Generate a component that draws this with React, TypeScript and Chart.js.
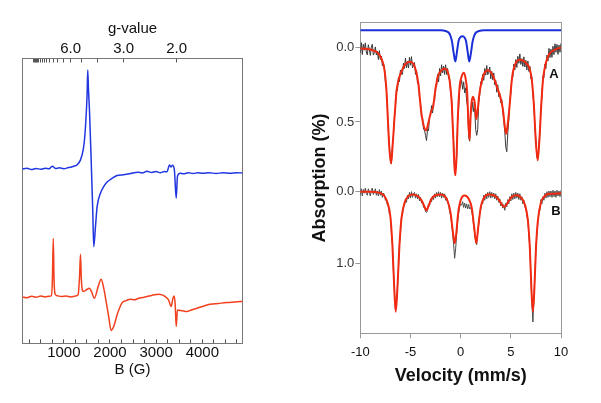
import React, { useEffect, useRef } from "react";
import { Chart, registerables } from "chart.js";

Chart.register(...registerables);

const FONT = "'Liberation Sans', Arial, Helvetica, sans-serif";

// ---------------- EPR panel (left) ----------------
const EPR_FIELD_MIN = 100;
const EPR_FIELD_MAX = 4875;
const EPR_B_TICKS = [250, 500, 750, 1000, 1250, 1500, 1750, 2000, 2250, 2500, 2750, 3000, 3250, 3500, 3750, 4000, 4250, 4500, 4750];
const EPR_B_LABELED = [1000, 2000, 3000, 4000];
const G_FACTOR = 6890; // g * B (G)
const G_LABELED = [6.0, 3.0, 2.0];
const G_MINOR = [20, 19, 18, 17, 16, 15, 14, 13, 12, 11, 10, 9, 8, 7, 5, 4];

const blueField = [100, 200, 300, 400, 500, 600, 680, 749, 820, 900, 1000, 1100, 1145, 1200, 1289, 1361, 1419, 1447, 1469, 1505, 1518, 1535, 1555, 1592, 1626, 1648, 1685, 1721, 1793, 1860, 1937, 2050, 2153, 2300, 2441, 2600, 2700, 2801, 2900, 3000, 3089, 3180, 3233, 3290, 3320, 3355, 3395, 3434, 3462, 3520, 3592, 3700, 3800, 3900, 4000, 4150, 4300, 4450, 4600, 4750, 4875];
const blueSignal = [0.0, 0.3, -0.2, 0.2, -0.1, 0.3, 0.1, 1.0, 0.2, 0.4, 0.1, 0.5, 0.6, 0.9, 1.5, 3.2, 6.7, 10.2, 14.9, 26.6, 34.8, 27.5, 20.7, 3.2, -14.4, -27.3, -20.3, -13.2, -8.5, -6.3, -4.6, -3.2, -2.3, -2.0, -1.6, -1.1, -1.4, -0.8, -1.2, -0.9, -1.3, -0.9, -1.0, 1.4, 0.7, 1.3, -0.4, -10.3, -2.5, -1.5, -1.7, -1.3, -1.6, -1.3, -1.5, -1.3, -1.6, -1.3, -1.5, -1.3, -1.4];

const redField = [100, 200, 300, 400, 500, 600, 680, 730, 752, 771, 788, 810, 860, 950, 1050, 1150, 1250, 1310, 1340, 1361, 1380, 1405, 1432, 1490, 1555, 1598, 1663, 1743, 1808, 1864, 1922, 1972, 2024, 2080, 2166, 2261, 2350, 2441, 2530, 2620, 2710, 2801, 2900, 3000, 3052, 3130, 3197, 3268, 3326, 3363, 3391, 3413, 3434, 3462, 3521, 3600, 3665, 3760, 3881, 4000, 4169, 4350, 4529, 4700, 4875];
const redSignal = [0.0, -0.3, 0.2, -0.1, 0.3, 0.0, 0.2, 0.4, 6, 20.5, 6, 1.0, 0.4, 0.1, 0.3, 0.0, 0.3, 0.8, 7, 15.0, 6, 2.2, 1.9, 2.5, 3.05, 1.9, -0.46, 3.6, 6.2, 3.05, -2.2, -6.9, -11.8, -10.4, -5.7, -2.1, -1.3, -0.8, -1.0, -0.5, -0.2, 0.1, 0.5, 0.8, 0.95, 0.7, 0.1, -1.05, -3.4, -0.46, 0.35, -2.8, -10.4, -4.6, -4.8, -5.0, -5.1, -4.6, -4.0, -3.4, -2.6, -2.3, -2.0, -1.8, -1.6];

const EPR_BLUE_OFFSET = 61.2;
const EPR_RED_OFFSET = 16.3;

// ---------------- Mossbauer panel (right) ----------------
const VEL_TICKS = [-10, -5, 0, 5, 10];
const A_TICKS = [0.0, 0.5];
const B_TICKS = [0.0, 1.0];
const B_OFFSET = 0.969;
const B_SCALE = 0.482;
const COMP_OFFSET = -0.117;

const compVel = [-10, -2, -1.5, -1.2, -1.0, -0.85, -0.7, -0.53, -0.38, -0.2, 0.0, 0.165, 0.33, 0.53, 0.71, 0.86, 1.03, 1.18, 1.33, 1.53, 1.83, 2.33, 10];
const compAbs = [0, 0, 0.005, 0.015, 0.04, 0.08, 0.15, 0.21, 0.15, 0.07, 0.045, 0.04, 0.045, 0.07, 0.15, 0.21, 0.15, 0.08, 0.04, 0.015, 0.005, 0, 0];

const fitAVel = [-10, -9.5, -9.0, -8.5, -8.25, -8.0, -7.75, -7.57, -7.4, -7.24, -7.1, -6.93, -6.78, -6.6, -6.4, -6.2, -5.9, -5.5, -5.08, -4.7, -4.4, -4.2, -3.95, -3.7, -3.45, -3.2, -2.95, -2.75, -2.55, -2.3, -2.0, -1.6, -1.3, -1.1, -0.9, -0.75, -0.6, -0.52, -0.4, -0.27, -0.1, 0.07, 0.33, 0.5, 0.65, 0.78, 0.89, 0.98, 1.06, 1.23, 1.4, 1.56, 1.7, 1.85, 2.05, 2.3, 2.72, 3.2, 3.6, 3.95, 4.2, 4.4, 4.54, 4.68, 4.88, 5.05, 5.21, 5.54, 5.9, 6.2, 6.6, 6.87, 7.1, 7.3, 7.5, 7.68, 7.85, 8.03, 8.2, 8.43, 8.65, 8.86, 9.2, 9.69, 10];
const fitAAbs = [0.005, 0.008, 0.012, 0.025, 0.035, 0.06, 0.10, 0.16, 0.28, 0.50, 0.68, 0.78, 0.66, 0.48, 0.30, 0.22, 0.16, 0.11, 0.095, 0.11, 0.17, 0.25, 0.42, 0.52, 0.556, 0.50, 0.43, 0.40, 0.30, 0.20, 0.16, 0.14, 0.16, 0.22, 0.36, 0.58, 0.82, 0.859, 0.72, 0.45, 0.26, 0.20, 0.168, 0.21, 0.30, 0.52, 0.62, 0.48, 0.386, 0.33, 0.37, 0.48, 0.42, 0.32, 0.24, 0.18, 0.152, 0.186, 0.26, 0.33, 0.41, 0.53, 0.58, 0.52, 0.39, 0.25, 0.164, 0.096, 0.082, 0.086, 0.11, 0.14, 0.22, 0.39, 0.64, 0.758, 0.62, 0.39, 0.22, 0.12, 0.07, 0.04, 0.02, 0.005, 0.0];

const fitBVel = [-10, -9, -8.5, -8.0, -7.6, -7.3, -7.0, -6.8, -6.6, -6.47, -6.3, -6.1, -5.9, -5.6, -5.2, -4.8, -4.3, -3.9, -3.6, -3.42, -3.2, -2.9, -2.5, -2.0, -1.6, -1.3, -1.0, -0.8, -0.6, -0.45, -0.25, 0.0, 0.4, 0.8, 1.1, 1.35, 1.56, 1.75, 2.0, 2.3, 2.8, 3.3, 3.8, 4.1, 4.38, 4.7, 5.1, 5.6, 6.0, 6.4, 6.7, 6.9, 7.05, 7.2, 7.35, 7.5, 7.7, 8.0, 8.4, 8.8, 9.3, 10];
const fitBAbs = [0.0, 0.0, 0.005, 0.02, 0.06, 0.15, 0.35, 0.75, 1.40, 1.676, 1.35, 0.75, 0.38, 0.16, 0.06, 0.04, 0.06, 0.12, 0.21, 0.26, 0.20, 0.10, 0.05, 0.04, 0.06, 0.13, 0.30, 0.53, 0.72, 0.60, 0.30, 0.12, 0.055, 0.10, 0.22, 0.50, 0.72, 0.50, 0.22, 0.09, 0.04, 0.05, 0.11, 0.18, 0.21, 0.15, 0.07, 0.05, 0.08, 0.18, 0.40, 0.80, 1.35, 1.676, 1.35, 0.80, 0.40, 0.15, 0.06, 0.03, 0.03, 0.02];

const dataVel = [
  -10.0, -9.9, -9.8, -9.7, -9.6, -9.5, -9.4, -9.3, -9.2, -9.1, -9.0, -8.9, -8.8, -8.7, -8.6, -8.5, -8.4, -8.3, -8.2, -8.1,
  -8.0, -7.9, -7.8, -7.7, -7.6, -7.5, -7.4, -7.3, -7.2, -7.1, -7.0, -6.9, -6.8, -6.7, -6.6, -6.5, -6.4, -6.3, -6.2, -6.1,
  -6.0, -5.9, -5.8, -5.7, -5.6, -5.5, -5.4, -5.3, -5.2, -5.1, -5.0, -4.9, -4.8, -4.7, -4.6, -4.5, -4.4, -4.3, -4.2, -4.1,
  -4.0, -3.9, -3.8, -3.7, -3.6, -3.5, -3.4, -3.3, -3.2, -3.1, -3.0, -2.9, -2.8, -2.7, -2.6, -2.5, -2.4, -2.3, -2.2, -2.1,
  -2.0, -1.9, -1.8, -1.7, -1.6, -1.5, -1.4, -1.3, -1.2, -1.1, -1.0, -0.9, -0.8, -0.7, -0.6, -0.5, -0.4, -0.3, -0.2, -0.1,
  0.0, 0.1, 0.2, 0.3, 0.4, 0.5, 0.6, 0.7, 0.8, 0.9, 1.0, 1.1, 1.2, 1.3, 1.4, 1.5, 1.6, 1.7, 1.8, 1.9,
  2.0, 2.1, 2.2, 2.3, 2.4, 2.5, 2.6, 2.7, 2.8, 2.9, 3.0, 3.1, 3.2, 3.3, 3.4, 3.5, 3.6, 3.7, 3.8, 3.9,
  4.0, 4.1, 4.2, 4.3, 4.4, 4.5, 4.6, 4.7, 4.8, 4.9, 5.0, 5.1, 5.2, 5.3, 5.4, 5.5, 5.6, 5.7, 5.8, 5.9,
  6.0, 6.1, 6.2, 6.3, 6.4, 6.5, 6.6, 6.7, 6.8, 6.9, 7.0, 7.1, 7.2, 7.3, 7.4, 7.5, 7.6, 7.7, 7.8, 7.9,
  8.0, 8.1, 8.2, 8.3, 8.4, 8.5, 8.6, 8.7, 8.8, 8.9, 9.0, 9.1, 9.2, 9.3, 9.4, 9.5, 9.6, 9.7, 9.8, 9.9,
  10.0,
];
const dataAAbs = [
  0.035, -0.034, 0.046, -0.023, 0.017, -0.032, 0.029, 0.049, -0.02, 0.011, 0.052, -0.005, -0.023, 0.05, 0.032, -0.005, 0.049, 0.023, 0.08, 0.02,
  0.08, 0.056, 0.122, 0.105, 0.13, 0.23, 0.28, 0.40, 0.57, 0.66, 0.76, 0.78, 0.66, 0.60, 0.47, 0.41, 0.28, 0.29, 0.20, 0.23,
  0.15, 0.18, 0.18, 0.105, 0.14, 0.07, 0.135, 0.09, 0.137, 0.065, 0.118, 0.06, 0.135, 0.12, 0.10, 0.18, 0.15, 0.24, 0.23, 0.34,
  0.37, 0.47, 0.47, 0.55, 0.555, 0.59, 0.625, 0.55, 0.56, 0.46, 0.46, 0.39, 0.44, 0.36, 0.36, 0.25, 0.26, 0.18, 0.23, 0.14,
  0.19, 0.115, 0.17, 0.125, 0.18, 0.115, 0.18, 0.14, 0.21, 0.21, 0.31, 0.34, 0.52, 0.64, 0.83, 0.81, 0.74, 0.49, 0.41, 0.28,
  0.25, 0.22, 0.28, 0.23, 0.305, 0.27, 0.36, 0.40, 0.60, 0.63, 0.44, 0.43, 0.365, 0.43, 0.41, 0.55, 0.59, 0.55, 0.37, 0.32,
  0.23, 0.25, 0.18, 0.22, 0.14, 0.185, 0.12, 0.182, 0.165, 0.13, 0.21, 0.16, 0.216, 0.17, 0.25, 0.22, 0.30, 0.25, 0.33, 0.31,
  0.37, 0.35, 0.43, 0.49, 0.57, 0.67, 0.70, 0.57, 0.49, 0.35, 0.31, 0.20, 0.20, 0.11, 0.15, 0.08, 0.133, 0.058, 0.105, 0.042,
  0.113, 0.074, 0.126, 0.062, 0.13, 0.085, 0.15, 0.09, 0.16, 0.125, 0.21, 0.20, 0.32, 0.38, 0.54, 0.62, 0.74, 0.75, 0.64, 0.57,
  0.40, 0.33, 0.19, 0.20, 0.11, 0.14, 0.05, 0.09, 0.005, 0.067, 0.01, 0.065, -0.01, 0.047, -0.026, 0.031, -0.022, 0.045, -0.017, 0.031,
  -0.03,
];
const dataBAbs = [
  0.05, -0.04, 0.06, -0.03, 0.02, -0.05, 0.03, 0.05, -0.04, 0.01, 0.06, -0.02, -0.05, 0.04, 0.01, -0.04, 0.05, -0.01, 0.06, -0.03,
  0.05, -0.01, 0.08, 0.02, 0.04, 0.12, 0.10, 0.19, 0.20, 0.31, 0.33, 0.58, 0.73, 1.10, 1.38, 1.65, 1.56, 1.33, 1.08, 0.73,
  0.59, 0.35, 0.33, 0.20, 0.20, 0.10, 0.15, 0.05, 0.10, 0.01, 0.09, 0.00, 0.08, 0.03, 0.01, 0.09, 0.03, 0.10, 0.04, 0.13,
  0.08, 0.16, 0.13, 0.22, 0.21, 0.28, 0.29, 0.26, 0.17, 0.19, 0.10, 0.14, 0.06, 0.11, 0.03, 0.09, 0.01, 0.07, 0.00, 0.07,
  0.01, 0.09, 0.02, 0.08, 0.03, 0.12, 0.08, 0.16, 0.17, 0.28, 0.33, 0.45, 0.58, 0.74, 0.93, 0.80, 0.60, 0.42, 0.30, 0.21,
  0.17, 0.19, 0.14, 0.22, 0.16, 0.23, 0.17, 0.24, 0.18, 0.24, 0.22, 0.27, 0.35, 0.48, 0.58, 0.70, 0.74, 0.58, 0.46, 0.30,
  0.25, 0.15, 0.17, 0.05, 0.12, 0.03, 0.10, 0.01, 0.08, 0.00, 0.09, 0.01, 0.08, 0.02, 0.10, 0.03, 0.12, 0.06, 0.15, 0.10,
  0.20, 0.15, 0.23, 0.18, 0.26, 0.16, 0.21, 0.11, 0.17, 0.07, 0.13, 0.03, 0.11, 0.02, 0.10, 0.01, 0.09, 0.02, 0.11, 0.03,
  0.12, 0.07, 0.17, 0.12, 0.22, 0.22, 0.35, 0.38, 0.63, 0.78, 1.20, 1.55, 1.82, 1.50, 1.15, 0.83, 0.58, 0.43, 0.29, 0.26,
  0.11, 0.17, 0.07, 0.12, 0.02, 0.09, 0.00, 0.08, -0.01, 0.07, -0.01, 0.08, -0.02, 0.07, -0.01, 0.08, -0.02, 0.06, -0.01, 0.07,
  -0.02,
];

const SPEC_LABELS = ["A", "B"];
const SPEC_LABEL_VEL = [9.3, 9.5];
const SPEC_LABEL_ABS = [0.18, 0.27];

const zip = (xs: number[], ys: number[], f: (y: number) => number) =>
  xs.map((x, i) => ({ x, y: f(ys[i]) }));

function EprChart() {
  const ref = useRef<HTMLCanvasElement | null>(null);
  useEffect(() => {
    if (!ref.current) return;
    const gTicks = [...G_LABELED.map((g) => ({ g, label: g.toFixed(1) })), ...G_MINOR.map((g) => ({ g, label: "" }))]
      .map((t) => ({ value: G_FACTOR / t.g, label: t.label }))
      .sort((a, b) => a.value - b.value);
    const chart = new Chart(ref.current, {
      type: "line",
      data: {
        datasets: [
          {
            data: zip(blueField, blueSignal, (v) => v + EPR_BLUE_OFFSET),
            borderColor: "#2036e0",
            borderWidth: 1.5,
            pointRadius: 0,
            cubicInterpolationMode: "monotone",
            xAxisID: "x",
            yAxisID: "y",
          },
          {
            data: zip(redField, redSignal, (v) => v + EPR_RED_OFFSET),
            borderColor: "#f2401e",
            borderWidth: 1.5,
            pointRadius: 0,
            cubicInterpolationMode: "monotone",
            xAxisID: "x",
            yAxisID: "y",
          },
        ],
      },
      options: {
        animation: false,
        responsive: false,
        maintainAspectRatio: false,
        layout: { padding: 0 },
        plugins: { legend: { display: false }, tooltip: { enabled: false } },
        scales: {
          x: {
            type: "linear",
            position: "bottom",
            min: EPR_FIELD_MIN,
            max: EPR_FIELD_MAX,
            afterBuildTicks: (s: any) => {
              s.ticks = EPR_B_TICKS.map((v) => ({ value: v }));
            },
            afterFit: (s: any) => {
              s.height = 59.7;
            },
            ticks: {
              autoSkip: false,
              maxRotation: 0,
              minRotation: 0,
              padding: 5,
              color: "#111",
              font: { family: FONT, size: 15 },
              callback: (v: any) => (EPR_B_LABELED.includes(Number(v)) ? String(v) : ""),
            },
            grid: { drawOnChartArea: false, drawTicks: true, tickLength: -4, color: "#555", tickColor: "#555", tickWidth: 1 },
            border: { display: true, color: "#777" },
            title: { display: true, text: "B (G)", color: "#111", font: { family: FONT, size: 15 }, padding: { top: 0, bottom: 24 } },
          },
          g: {
            type: "linear",
            position: "top",
            min: EPR_FIELD_MIN,
            max: EPR_FIELD_MAX,
            afterBuildTicks: (s: any) => {
              s.ticks = gTicks.map((t) => ({ value: t.value }));
            },
            afterFit: (s: any) => {
              s.height = 58.5;
            },
            ticks: {
              autoSkip: false,
              maxRotation: 0,
              minRotation: 0,
              padding: 4.5,
              color: "#111",
              font: { family: FONT, size: 15 },
              callback: (_v: any, i: number) => gTicks[i].label,
            },
            grid: { drawOnChartArea: false, tickLength: -4, color: "#555", tickColor: "#555", tickWidth: 1 },
            border: { display: true, color: "#777" },
            title: { display: true, text: "g-value", color: "#111", font: { family: FONT, size: 15 }, padding: { top: 19.5, bottom: 0 } },
          },
          y: {
            type: "linear",
            position: "left",
            min: 0,
            max: 100,
            afterFit: (s: any) => {
              s.width = 22.3;
            },
            ticks: { display: false },
            grid: { display: false },
            border: { display: true, color: "#777" },
          },
          yr: {
            type: "linear",
            position: "right",
            min: 0,
            max: 100,
            afterFit: (s: any) => {
              s.width = 57.3;
            },
            ticks: { display: false },
            grid: { display: false },
            border: { display: true, color: "#777" },
          },
        },
      } as any,
    });
    return () => chart.destroy();
  }, []);
  return <canvas ref={ref} width={300} height={403} style={{ position: "absolute", left: 0, top: 0, width: 300, height: 403 }} />;
}

function MossChart() {
  const ref = useRef<HTMLCanvasElement | null>(null);
  useEffect(() => {
    if (!ref.current) return;
    const toB = (w: number) => B_OFFSET + w * B_SCALE;
    const yTicks = [...A_TICKS.map((t) => ({ value: t, label: t.toFixed(1) })), ...B_TICKS.map((t) => ({ value: toB(t), label: t.toFixed(1) }))];
    const labelPlugin = {
      id: "specLabels",
      afterDatasetsDraw(chart: any) {
        const { ctx, scales } = chart;
        ctx.save();
        ctx.fillStyle = "#111";
        ctx.font = `bold 13px ${FONT}`;
        ctx.textAlign = "center";
        ctx.textBaseline = "middle";
        SPEC_LABELS.forEach((t, i) => {
          const yv = i === 0 ? SPEC_LABEL_ABS[i] : toB(SPEC_LABEL_ABS[i]);
          ctx.fillText(t, scales.x.getPixelForValue(SPEC_LABEL_VEL[i]), scales.y.getPixelForValue(yv));
        });
        ctx.restore();
      },
    };
    const common = { pointRadius: 0, xAxisID: "x", yAxisID: "y" };
    const chart = new Chart(ref.current, {
      type: "line",
      data: {
        datasets: [
          { ...common, data: zip(compVel, compAbs, (v) => v + COMP_OFFSET), borderColor: "#1a2fd8", borderWidth: 2, cubicInterpolationMode: "monotone", order: 0 },
          { ...common, data: zip(fitAVel, fitAAbs, (v) => v), borderColor: "#f22a12", borderWidth: 2, cubicInterpolationMode: "monotone", order: 1 },
          { ...common, data: zip(fitBVel, fitBAbs, toB), borderColor: "#f22a12", borderWidth: 2, cubicInterpolationMode: "monotone", order: 1 },
          { ...common, data: zip(dataVel, dataAAbs, (v) => v), borderColor: "#3a3a3a", borderWidth: 1, tension: 0, order: 2 },
          { ...common, data: zip(dataVel, dataBAbs, toB), borderColor: "#4a4f4a", borderWidth: 1, tension: 0, order: 2 },
        ],
      },
      options: {
        animation: false,
        responsive: false,
        maintainAspectRatio: false,
        layout: { padding: 0 },
        plugins: { legend: { display: false }, tooltip: { enabled: false } },
        scales: {
          x: {
            type: "linear",
            position: "bottom",
            min: -10,
            max: 10,
            afterBuildTicks: (s: any) => {
              s.ticks = VEL_TICKS.map((v) => ({ value: v }));
            },
            afterFit: (s: any) => {
              s.height = 69.7;
            },
            ticks: { autoSkip: false, maxRotation: 0, padding: 6.4, color: "#111", font: { family: FONT, size: 13 } },
            grid: { drawOnChartArea: false, tickLength: 5, color: "#999", tickColor: "#999" },
            border: { display: true, color: "#999" },
            title: { display: true, text: "Velocity (mm/s)", color: "#111", font: { family: FONT, size: 18, weight: "bold" }, padding: { top: 0, bottom: 16.2 } },
          },
          xt: {
            type: "linear",
            position: "top",
            min: -10,
            max: 10,
            afterFit: (s: any) => {
              s.height = 22.7;
            },
            ticks: { display: false },
            grid: { display: false },
            border: { display: true, color: "#999" },
          },
          y: {
            type: "linear",
            position: "left",
            reverse: true,
            min: -0.168,
            max: 1.922,
            afterBuildTicks: (s: any) => {
              s.ticks = yTicks.map((t) => ({ value: t.value }));
            },
            afterFit: (s: any) => {
              s.width = 60.3;
            },
            ticks: { autoSkip: false, padding: 1, color: "#333", font: { family: FONT, size: 13 }, callback: (_v: any, i: number) => yTicks[i].label },
            grid: { drawOnChartArea: false, tickLength: 5, color: "#999", tickColor: "#999" },
            border: { display: true, color: "#999" },
            title: { display: true, text: "Absorption (%)", color: "#111", font: { family: FONT, size: 18, weight: "bold" }, padding: { top: 9.2, bottom: 0 } },
          },
          yr: {
            type: "linear",
            position: "right",
            min: 0,
            max: 1,
            afterFit: (s: any) => {
              s.width = 40;
            },
            ticks: { display: false },
            grid: { display: false },
            border: { display: true, color: "#999" },
          },
        },
      } as any,
      plugins: [labelPlugin],
    });
    return () => chart.destroy();
  }, []);
  return <canvas ref={ref} width={301} height={403} style={{ position: "absolute", left: 300, top: 0, width: 301, height: 403 }} />;
}

export default function App() {
  return (
    <div style={{ position: "fixed", left: 0, top: 0, width: 601, height: 403, background: "#fff", overflow: "hidden" }}>
      <EprChart />
      <MossChart />
    </div>
  );
}
